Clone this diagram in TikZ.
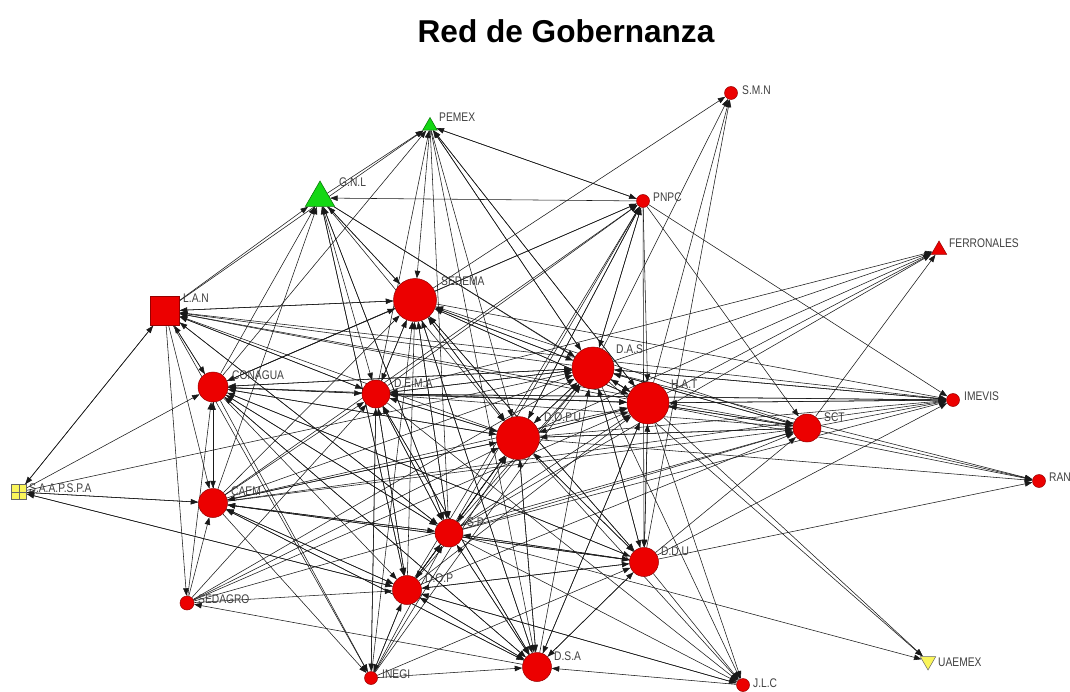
\documentclass[tikz,border=0pt]{standalone}
\usepackage{fontspec}
\setmainfont{Liberation Sans}
\newfontfamily\lblfont[FakeStretch=0.82]{Liberation Sans}
\usetikzlibrary{arrows.meta, shapes.geometric, backgrounds}
\definecolor{actorred}{RGB}{236,0,0}
\definecolor{actorline}{RGB}{150,0,0}
\definecolor{actorgreen}{RGB}{20,215,20}
\definecolor{greenline}{RGB}{0,110,0}
\definecolor{actoryellow}{RGB}{250,245,90}

\begin{document}
\begin{tikzpicture}[
        x=1pt, y=-1pt, >={Triangle[length=7.5pt,width=5.5pt]},
        actor/.style={circle, draw=actorline, fill=actorred, inner sep=0pt, line width=0.5pt},
        big/.style={actor, minimum size=43pt},
        mid/.style={actor, minimum size=29pt},
        small/.style={actor, minimum size=13pt},
        tri/.style={regular polygon, regular polygon sides=3, inner sep=0pt, line width=0.5pt},
        lbl/.style={anchor=west, inner sep=0pt, text=black!75,
                    font=\lblfont\fontsize{12.5}{12.5}\selectfont},
        link/.style={->, line width=0.55pt, black!90},
        ]
        \useasboundingbox (0,0) rectangle (1070,692);
        \node[font=\bfseries\fontsize{31.6}{32}\selectfont] (title) at (566,31) {Red de Gobernanza};

        % actors
        \node[tri, draw=greenline, fill=actorgreen, minimum size=17pt] (pemex) at (430,126) {};
        \node[tri, draw=greenline, fill=actorgreen, minimum size=34pt] (gnl) at (320,198) {};
        \node[small] (smn) at (731,93) {};
        \node[small] (pnpc) at (643,201) {};
        \node[tri, draw=actorline, fill=actorred, minimum size=18pt] (ferro) at (939,250) {};
        \node[rectangle, draw=actorline, fill=actorred, minimum size=29pt, inner sep=0pt] (lan) at (165,311) {};
        \node[big] (sedema) at (415,300) {};
        \node[big, minimum size=42pt] (das) at (593,368) {};
        \node[big, minimum size=42pt] (hat) at (648,403) {};
        \node[mid, minimum size=30pt] (conagua) at (213,387) {};
        \node[mid, minimum size=28pt] (dema) at (376,394) {};
        \node[big] (dopu) at (518,438) {};
        \node[small] (imevis) at (953,400) {};
        \node[mid, minimum size=28pt] (sct) at (807,428) {};
        \node[small] (ran) at (1039,481) {};
        \node[rectangle, draw=black!60, fill=actoryellow, minimum size=15pt, inner sep=0pt,
              path picture={\draw[black!60]
                (path picture bounding box.north) -- (path picture bounding box.south)
                (path picture bounding box.west) -- (path picture bounding box.east);}]
              (saap) at (19,492) {};
        \node[mid] (caem) at (213,503) {};
        \node[mid, minimum size=28pt] (sp) at (449,533) {};
        \node[mid] (ddu) at (644,562) {};
        \node[mid] (dop) at (407,590) {};
        \node[small, minimum size=14pt] (sedagro) at (187,603) {};
        \node[tri, shape border rotate=180, draw=black!60, fill=actoryellow, minimum size=18pt] (uaemex) at (928,661) {};
        \node[small] (inegi) at (371,678) {};
        \node[mid] (dsa) at (537,667) {};
        \node[small] (jlc) at (743,685) {};

        % names
        \node[lbl] (pemex_t) at (439,117) {PEMEX};
        \node[lbl] (gnl_t) at (339,182) {G.N.L};
        \node[lbl] (smn_t) at (742,90) {S.M.N};
        \node[lbl] (pnpc_t) at (653,197) {PNPC};
        \node[lbl] (ferro_t) at (949,243) {FERRONALES};
        \node[lbl] (lan_t) at (183,298) {L.A.N};
        \node[lbl] (sedema_t) at (441,281) {SEDEMA};
        \node[lbl] (das_t) at (616,349) {D.A.S};
        \node[lbl] (hat_t) at (671,384) {H.A.T};
        \node[lbl] (conagua_t) at (232,375) {CONAGUA};
        \node[lbl] (dema_t) at (394,383) {D.E.M.A};
        \node[lbl] (dopu_t) at (544,417) {D.O.P.U};
        \node[lbl] (imevis_t) at (964,396) {IMEVIS};
        \node[lbl] (sct_t) at (824,417) {SCT};
        \node[lbl] (ran_t) at (1049,477) {RAN};
        \node[lbl] (saap_t) at (29,488) {S.A.A.P.S.P.A};
        \node[lbl] (caem_t) at (231,491) {CAEM};
        \node[lbl] (sp_t) at (467,522) {S.P};
        \node[lbl] (ddu_t) at (661,551) {D.D.U};
        \node[lbl] (dop_t) at (425,578) {D.O.P};
        \node[lbl] (sedagro_t) at (198,599) {SEDAGRO};
        \node[lbl] (uaemex_t) at (938,662) {UAEMEX};
        \node[lbl] (inegi_t) at (382,674) {INEGI};
        \node[lbl] (dsa_t) at (554,656) {D.S.A};
        \node[lbl] (jlc_t) at (753,683) {J.L.C};

        % ties between actors
        \begin{scope}[on background layer]
        \fill[white] (0,0) rectangle (1070,692);
        \path[link]
        (pemex) edge (sedema) (pemex) edge (pnpc) (pemex) edge (das) (pemex) edge (hat)
        (pemex) edge (dopu) (pemex) edge (sp) (pemex) edge (dsa)
        (gnl) edge (pemex) (gnl) edge (sedema) (gnl) edge (dema) (gnl) edge (sp)
        (gnl) edge (dopu) (gnl) edge (das) (gnl) edge (hat) (gnl) edge (dop)
        (pnpc) edge (pemex) (pnpc) edge (gnl) (pnpc) edge (das) (pnpc) edge (hat)
        (pnpc) edge (ddu) (pnpc) edge (sct) (pnpc) edge (imevis) (pnpc) edge (dopu)
        (lan) edge (gnl) (lan) edge (pemex) (lan) edge (sedema) (lan) edge (conagua)
        (lan) edge (caem) (lan) edge (sedagro) (lan) edge (inegi) (lan) edge (dema)
        (lan) edge (saap) (lan) edge (sp)
        (sedema) edge (smn) (sedema) edge (gnl) (sedema) edge (lan) (sedema) edge (dema)
        (sedema) edge (dopu) (sedema) edge (sp) (sedema) edge (das) (sedema) edge (hat)
        (sedema) edge (imevis) (sedema) edge (dsa) (sedema) edge (pnpc) (sedema) edge (conagua)
        (sedema) edge (ddu);
        \path[link]
        (das) edge (smn) (das) edge (ferro) (das) edge (ran) (das) edge (uaemex)
        (das) edge (jlc) (das) edge (lan) (das) edge (sedema) (das) edge (pemex)
        (das) edge (pnpc) (das) edge (hat) (das) edge (dema) (das) edge (dopu)
        (das) edge (sct) (das) edge (imevis) (das) edge (ddu) (das) edge (conagua)
        (hat) edge (smn) (hat) edge (ferro) (hat) edge (ran) (hat) edge (uaemex)
        (hat) edge (jlc) (hat) edge (lan) (hat) edge (imevis) (hat) edge (ddu)
        (hat) edge (sct) (hat) edge (dsa) (hat) edge (das) (hat) edge (sedema)
        (hat) edge (pemex) (hat) edge (dopu) (hat) edge (dema)
        (conagua) edge (pemex) (conagua) edge (gnl) (conagua) edge (caem) (conagua) edge (dema)
        (conagua) edge (sedema) (conagua) edge (das) (conagua) edge (hat) (conagua) edge (dopu)
        (conagua) edge (sp) (conagua) edge (dop) (conagua) edge (ddu) (conagua) edge (dsa)
        (conagua) edge (inegi) (conagua) edge (lan) (conagua) edge (pnpc)
        (dema) edge (pemex) (dema) edge (pnpc) (dema) edge (ferro) (dema) edge (sedema)
        (dema) edge (das) (dema) edge (hat) (dema) edge (dopu) (dema) edge (sp)
        (dema) edge (dop) (dema) edge (inegi) (dema) edge (dsa) (dema) edge (jlc)
        (dema) edge (imevis) (dema) edge (conagua) (dema) edge (lan);
        \path[link]
        (dopu) edge (ferro) (dopu) edge (sedema) (dopu) edge (das) (dopu) edge (hat)
        (dopu) edge (dema) (dopu) edge (sp) (dopu) edge (dop) (dopu) edge (dsa)
        (dopu) edge (ddu) (dopu) edge (jlc) (dopu) edge (imevis) (dopu) edge (sct)
        (dopu) edge (lan) (dopu) edge (pnpc) (dopu) edge (conagua) (dopu) edge (caem)
        (dopu) edge (ran)
        (imevis) edge (lan) (imevis) edge (das) (imevis) edge (hat) (imevis) edge (dema)
        (sct) edge (ferro) (sct) edge (ran) (sct) edge (imevis) (sct) edge (lan)
        (sct) edge (sedema) (sct) edge (das) (sct) edge (hat) (sct) edge (dopu)
        (sct) edge (dema)
        (saap) edge (conagua) (saap) edge (caem) (saap) edge (das) (saap) edge (dop)
        (saap) edge (lan)
        (caem) edge (conagua) (caem) edge (saap) (caem) edge (gnl) (caem) edge (sedema)
        (caem) edge (dema) (caem) edge (das) (caem) edge (hat) (caem) edge (dopu)
        (caem) edge (sp) (caem) edge (dop) (caem) edge (ddu) (caem) edge (sct)
        (caem) edge (imevis) (caem) edge (pnpc) (caem) edge (inegi) (caem) edge (dsa);
        \path[link]
        (sp) edge (gnl) (sp) edge (lan) (sp) edge (sedema) (sp) edge (das)
        (sp) edge (hat) (sp) edge (dopu) (sp) edge (dema) (sp) edge (conagua)
        (sp) edge (caem) (sp) edge (ddu) (sp) edge (dop) (sp) edge (dsa)
        (sp) edge (jlc) (sp) edge (pnpc) (sp) edge (ferro) (sp) edge (imevis)
        (sp) edge (sct) (sp) edge (uaemex)
        (ddu) edge (smn) (ddu) edge (ran) (ddu) edge (imevis) (ddu) edge (sct)
        (ddu) edge (das) (ddu) edge (hat) (ddu) edge (dopu) (ddu) edge (sp)
        (ddu) edge (dop) (ddu) edge (dsa) (ddu) edge (caem) (ddu) edge (sedema)
        (ddu) edge (jlc) (ddu) edge (conagua)
        (dop) edge (sp) (dop) edge (dopu) (dop) edge (das) (dop) edge (hat)
        (dop) edge (ddu) (dop) edge (dsa) (dop) edge (dema) (dop) edge (sedema)
        (dop) edge (caem) (dop) edge (gnl) (dop) edge (pnpc) (dop) edge (inegi)
        (dop) edge (saap) (dop) edge (jlc) (dop) edge (sct)
        (sedagro) edge (das) (sedagro) edge (hat) (sedagro) edge (dopu) (sedagro) edge (dop)
        (sedagro) edge (dema) (sedagro) edge (sct) (sedagro) edge (caem) (sedagro) edge (conagua)
        (inegi) edge (dsa) (inegi) edge (dop) (inegi) edge (sp) (inegi) edge (dopu)
        (inegi) edge (das) (inegi) edge (sedema) (inegi) edge (dema) (inegi) edge (ddu)
        (dsa) edge (sedema) (dsa) edge (das) (dsa) edge (hat) (dsa) edge (dopu)
        (dsa) edge (sp) (dsa) edge (dop) (dsa) edge (dema) (dsa) edge (sedagro)
        (dsa) edge (ddu) (dsa) edge (caem) (dsa) edge (conagua)
        (jlc) edge (dsa) (jlc) edge (dop);
        \end{scope}
      \end{tikzpicture}
\end{document}
